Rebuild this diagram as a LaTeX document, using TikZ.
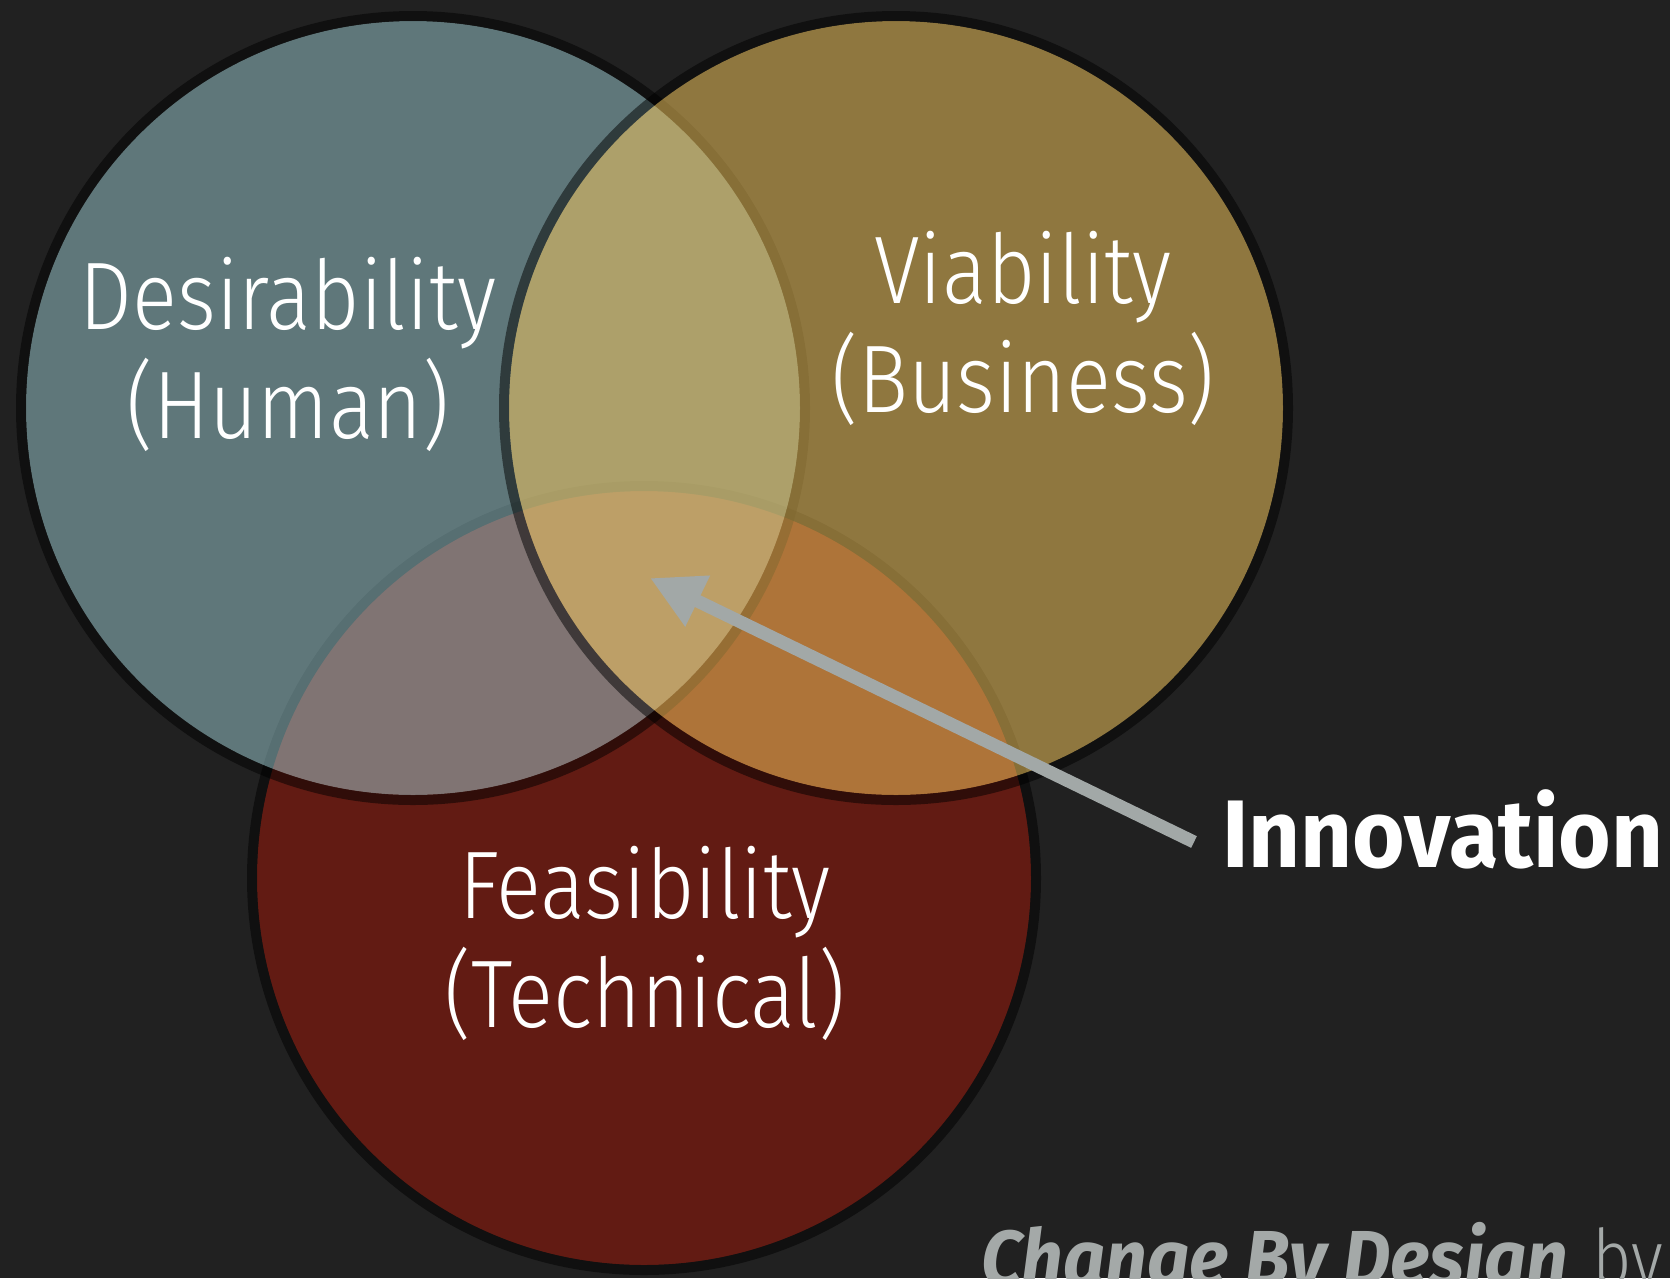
\documentclass[tikz,border=0pt]{standalone}
\usepackage{fontspec}
\usetikzlibrary{arrows.meta}
\newfontfamily\lightf{Fira Sans Light}[FakeStretch=0.87]
\newfontfamily\boldf{Fira Sans}[FakeStretch=0.94]
\definecolor{bgc}{RGB}{33,33,33}
\definecolor{tealc}{RGB}{158,206,212}
\definecolor{goldc}{RGB}{245,199,92}
\definecolor{redc}{RGB}{98,27,19}
\definecolor{arrowc}{RGB}{162,168,167}
\definecolor{creditc}{RGB}{164,169,168}
\begin{document}
\begin{tikzpicture}[x=1pt,y=-1pt,
  ring/.style={draw=black, draw opacity=0.5, line width=10pt},
  vlabel/.style={text=white, font=\lightf\fontsize{96}{109}\selectfont, align=center, anchor=base, inner sep=0pt},
  boldlabel/.style={text=white, font=\boldf\bfseries\fontsize{96}{109}\selectfont, anchor=base west, inner sep=0pt},
  pointer/.style={draw=arrowc, line width=13pt, -{Triangle[length=53pt,width=53pt]}}
]
\useasboundingbox (0,0) rectangle (1670,1278);
\clip (0,0) rectangle (1670,1278);
\fill[bgc] (0,0) rectangle (1670,1278);
\coordinate (cB) at (644,878);
\coordinate (cL) at (413,408);
\coordinate (cR) at (896,408);
\fill[redc] (cB) circle[radius=387pt];
\draw[ring] (cB) circle[radius=392pt];
\fill[tealc, fill opacity=0.5] (cL) circle[radius=387pt];
\draw[ring] (cL) circle[radius=392pt];
\fill[goldc, fill opacity=0.52] (cR) circle[radius=387pt];
\draw[ring] (cR) circle[radius=392pt];
\node[vlabel] (desir) at (288,438) {Desirability\\(Human)};
\node[vlabel] (viab) at (1023,412) {Viability\\(Business)};
\node[vlabel] (feas) at (645,1027) {Feasibility\\(Technical)};
\node[boldlabel] (innov) at (1222,867) {Innovation};
\coordinate (tail) at (1194,842);
\coordinate (tip) at (650,578);
\draw[pointer] (tail) -- (tip);
\node[text=creditc, anchor=base west, inner sep=0pt, font=\fontsize{78}{90}\selectfont] (credit) at (981,1285) {{\boldf\bfseries\itshape Change By Design} {\lightf by}};
\end{tikzpicture}
\end{document}
